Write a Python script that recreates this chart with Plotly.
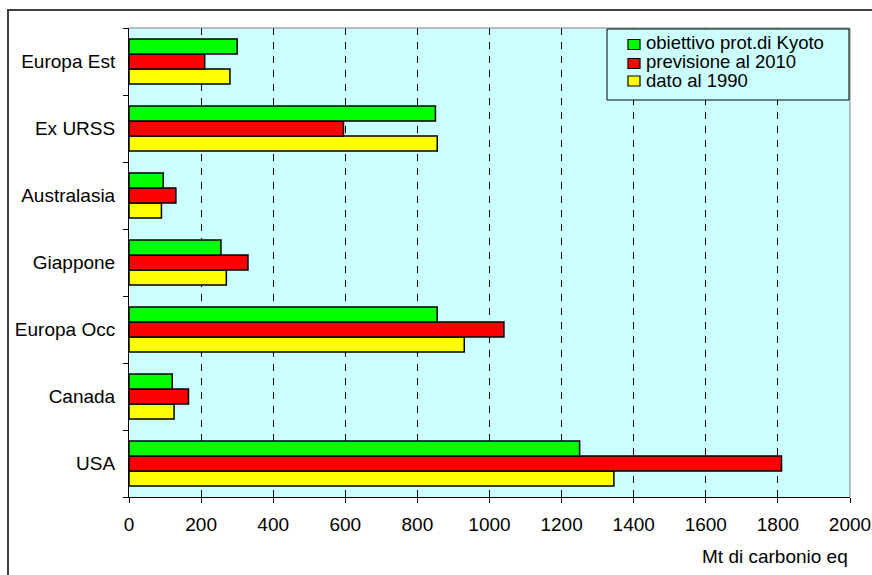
import plotly.graph_objects as go

# Emissions by region (Mt of carbon equivalent), listed bottom to top
regions = ["USA", "Canada", "Europa Occ", "Giappone", "Australasia", "Ex URSS", "Europa Est"]
dato_1990 = [1345, 125, 930, 270, 90, 855, 280]
previsione_2010 = [1810, 165, 1040, 330, 130, 595, 210]
obiettivo_kyoto = [1250, 120, 855, 255, 95, 850, 300]

series_names = ["obiettivo prot.di Kyoto", "previsione al 2010", "dato al 1990"]
series_colors = ["#00FF00", "#FF0000", "#FFFF00"]
x_ticks = [0, 200, 400, 600, 800, 1000, 1200, 1400, 1600, 1800, 2000]
x_title = "Mt di carbonio eq"

W, H = 872, 575
ML, MR, MT, MB = 129, 22, 28, 78
PW, PH = W - ML - MR, H - MT - MB
FONT = "Liberation Sans, Arial, sans-serif"


def px(x):
    return (x - ML) / PW


def py(y):
    return (H - MB - y) / PH


fig = go.Figure()
# grouped bars are stacked bottom-up in trace order
for name, vals, color in [
    (series_names[2], dato_1990, series_colors[2]),
    (series_names[1], previsione_2010, series_colors[1]),
    (series_names[0], obiettivo_kyoto, series_colors[0]),
]:
    fig.add_trace(go.Bar(
        y=regions, x=vals, name=name, orientation="h",
        marker=dict(color=color, line=dict(color="black", width=1.5)),
        showlegend=False,
    ))

shapes = []
# outer chart frame
shapes.append(dict(type="rect", xref="paper", yref="paper",
                   x0=px(8), x1=px(W + 10), y0=py(H + 10), y1=py(10),
                   line=dict(color="#404040", width=2), layer="below"))
# plot area border (top and right)
shapes.append(dict(type="line", xref="paper", yref="paper",
                   x0=0, x1=1, y0=1, y1=1, line=dict(color="#808080", width=1)))
shapes.append(dict(type="line", xref="paper", yref="paper",
                   x0=1, x1=1, y0=0, y1=1, line=dict(color="#808080", width=1)))

# legend box
lx0, lx1, ly0, ly1 = 607, 849, 29, 100
shapes.append(dict(type="rect", xref="paper", yref="paper",
                   x0=px(lx0), x1=px(lx1), y0=py(ly1), y1=py(ly0),
                   fillcolor="#CCFFFF", line=dict(color="black", width=1)))
annotations = []
text_y = [42.5, 61, 80]
swatch_y = [44.5, 63.5, 81]
for name, color, ty, sy in zip(series_names, series_colors, text_y, swatch_y):
    shapes.append(dict(type="rect", xref="paper", yref="paper",
                       x0=px(628), x1=px(640), y0=py(sy + 5), y1=py(sy - 5),
                       fillcolor=color, line=dict(color="black", width=1.2)))
    annotations.append(dict(xref="paper", yref="paper", x=px(644), y=py(ty),
                            text=name, showarrow=False, xanchor="left", yanchor="middle",
                            font=dict(family=FONT, size=18.5, color="black")))

annotations.append(dict(xref="paper", yref="paper", x=px(850), y=py(556),
                        text=x_title, showarrow=False, xanchor="right", yanchor="middle",
                        font=dict(family=FONT, size=19, color="black")))

fig.update_layout(
    width=W, height=H,
    margin=dict(l=ML, r=MR, t=MT, b=MB, pad=0, autoexpand=False),
    paper_bgcolor="white",
    plot_bgcolor="#CCFFFF",
    barmode="group",
    bargap=0.325,
    bargroupgap=0,
    font=dict(family=FONT, size=18, color="black"),
    shapes=shapes,
    annotations=annotations,
    xaxis=dict(
        range=[0, 2000], tickvals=x_ticks, ticktext=[str(v) for v in x_ticks],
        showgrid=True, gridcolor="black", gridwidth=1, griddash="7px,7px",
        zeroline=False, showline=True, linecolor="black", linewidth=1,
        ticks="outside", ticklen=5, tickcolor="black", ticklabelstandoff=5,
        tickfont=dict(family=FONT, size=19), fixedrange=True, automargin=False,
    ),
    yaxis=dict(
        categoryorder="array", categoryarray=regions,
        tickson="boundaries", ticks="outside", ticklen=5, tickcolor="black",
        ticklabelstandoff=9,
        showgrid=False, showline=True, linecolor="black", linewidth=1,
        tickfont=dict(family=FONT, size=19), fixedrange=True, automargin=False,
    ),
)

fig.write_html("out.html")
